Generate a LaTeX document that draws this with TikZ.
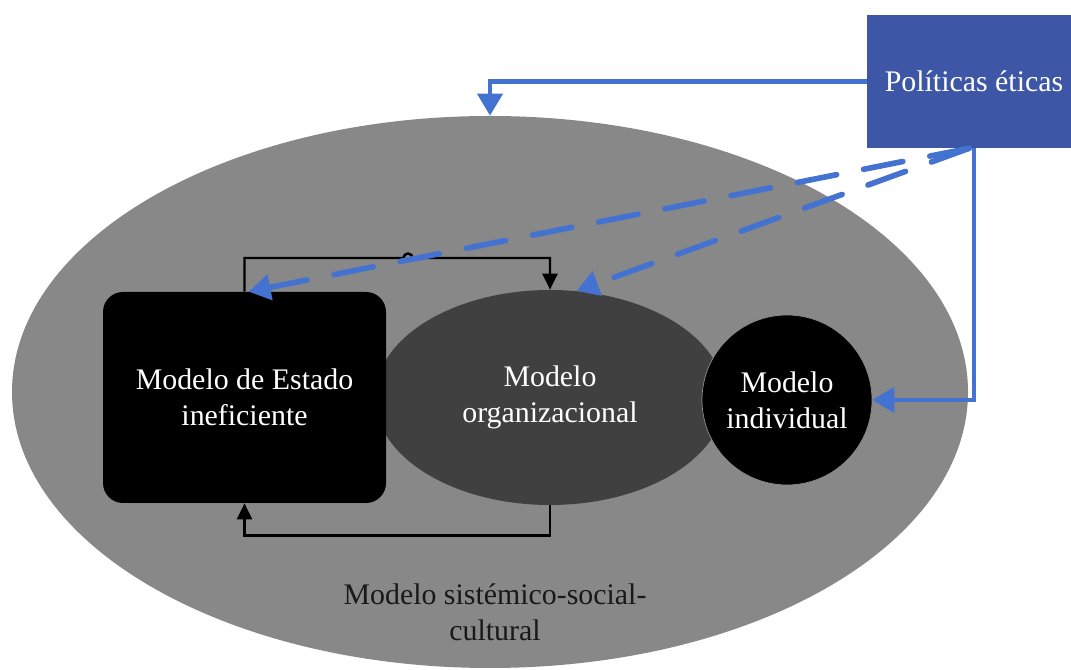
\documentclass[tikz,border=0pt]{standalone}
\usepackage{fontspec}
\setmainfont{Liberation Serif}
\usepackage{tikz}
\usetikzlibrary{arrows.meta, positioning, shapes.geometric, calc}
\usepackage{xcolor}
\definecolor{sysgray}{RGB}{136, 136, 136}
\definecolor{orggray}{RGB}{64, 64, 64}
\definecolor{polblue}{RGB}{61, 86, 166}
\definecolor{linkblue}{RGB}{68, 114, 208}
\tikzset{
    txt/.style = {font=\fontsize{17}{20.5}\selectfont, align=center},
    model/.style = {txt, text=white, inner sep=0pt},
    link/.style = {line width=1.4pt, black, -{Triangle[length=0.32cm, width=0.3cm]}},
    policy/.style = {line width=2.5pt, linkblue, -{Triangle[length=0.44cm, width=0.5cm]}},
    hint/.style = {policy, line width=3.2pt, dash pattern=on 0.8cm off 0.55cm, line cap=round}
}

\begin{document}
\begin{tikzpicture}
  \useasboundingbox (0,0) rectangle (21.42,13.4);

  \node[ellipse, fill=sysgray, minimum width=19.12cm, minimum height=11.04cm] (sistemico) at (9.8,5.56) {};
  \node[txt, text=black!90] (sistlabel) at (9.9,1.16) {Modelo sistémico-social-\\cultural};

  \node[model, ellipse, fill=orggray, minimum width=7cm, minimum height=4.3cm] (organizacional) at (11,5.45) {Modelo\\organizacional};
  \node[model, rectangle, rounded corners=0.4cm, fill=black, minimum width=5.66cm, minimum height=4.22cm] (estado) at (4.89,5.45) {Modelo de Estado\\ineficiente};
  \node[model, circle, fill=black, draw=black!45, thin, minimum size=3.4cm] (individual) at (15.74,5.4) {Modelo\\individual};

  \node[model, rectangle, fill=polblue, minimum width=4.28cm, minimum height=2.66cm] (politicas) at (19.48,11.77) {Políticas éticas};

  % feedback loop
  \coordinate (hop) at (8.16,8.24);
  \draw[link] (estado.north) |- ([xshift=-0.09cm]hop) arc[start angle=180, end angle=0, radius=0.09cm] -| (organizacional.north);
  \draw[link] (organizacional.south) -- ++(0,-0.6) -| (estado.south);

  % policies
  \draw[policy] (politicas.west) -| (sistemico.north);
  \draw[policy] (politicas.south) |- (individual.east);
  \draw[hint] ([xshift=-0.1cm]politicas.south) -- ([xshift=0.08cm]estado.north);
  \draw[hint] ([xshift=-0.1cm]politicas.south) -- (organizacional.76);
\end{tikzpicture}
\end{document}
